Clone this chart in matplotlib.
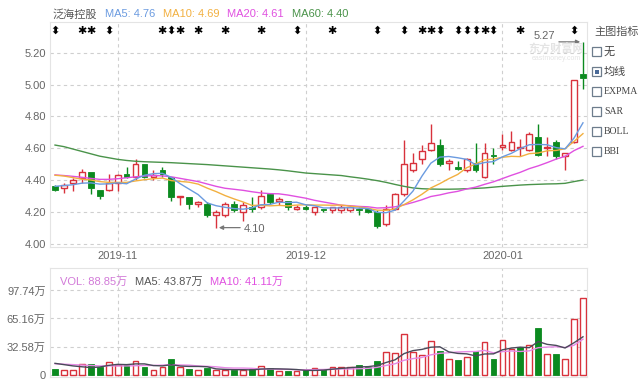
import numpy as np
import pandas as pd
import matplotlib
matplotlib.use('Agg')
import matplotlib.pyplot as plt
import matplotlib.transforms as mtransforms
from matplotlib.patches import Rectangle

plt.rcParams['font.family'] = ['Liberation Sans', 'Noto Sans CJK SC', 'DejaVu Sans']

# ---- data (2019-10-23 .. 2020-01-15, 60 sessions) ----
opens = [4.36, 4.35, 4.38, 4.41, 4.45, 4.34, 4.34, 4.38, 4.44, 4.42,
         4.50, 4.42, 4.46, 4.42, 4.29, 4.29, 4.25, 4.25, 4.18, 4.18,
         4.25, 4.20, 4.23, 4.23, 4.31, 4.27, 4.27, 4.22, 4.23, 4.20,
         4.22, 4.21, 4.21, 4.21, 4.22, 4.22, 4.20, 4.12, 4.22, 4.31,
         4.46, 4.53, 4.59, 4.62, 4.51, 4.48, 4.46, 4.51, 4.42, 4.56,
         4.61, 4.59, 4.60, 4.59, 4.67, 4.60, 4.64, 4.55, 4.64, 5.07]
highs = [4.37, 4.38, 4.41, 4.47, 4.45, 4.34, 4.44, 4.44, 4.48, 4.53,
         4.50, 4.46, 4.48, 4.42, 4.30, 4.29, 4.27, 4.26, 4.21, 4.26,
         4.27, 4.26, 4.29, 4.34, 4.32, 4.29, 4.27, 4.24, 4.24, 4.23,
         4.22, 4.23, 4.24, 4.24, 4.23, 4.22, 4.21, 4.24, 4.32, 4.65,
         4.57, 4.62, 4.75, 4.66, 4.53, 4.52, 4.54, 4.63, 4.63, 4.60,
         4.69, 4.71, 4.66, 4.70, 4.75, 4.67, 4.65, 4.57, 5.03, 5.27]
lows = [4.33, 4.32, 4.33, 4.38, 4.31, 4.28, 4.33, 4.33, 4.41, 4.40,
        4.41, 4.40, 4.42, 4.27, 4.24, 4.22, 4.23, 4.17, 4.10, 4.17,
        4.20, 4.14, 4.20, 4.22, 4.25, 4.24, 4.21, 4.21, 4.21, 4.18,
        4.20, 4.19, 4.19, 4.20, 4.18, 4.19, 4.10, 4.11, 4.21, 4.30,
        4.45, 4.50, 4.58, 4.49, 4.46, 4.46, 4.45, 4.45, 4.41, 4.50,
        4.59, 4.58, 4.55, 4.58, 4.55, 4.55, 4.53, 4.46, 4.63, 4.97]
closes = [4.34, 4.37, 4.40, 4.45, 4.35, 4.30, 4.38, 4.43, 4.42, 4.50,
          4.42, 4.43, 4.44, 4.29, 4.30, 4.25, 4.26, 4.18, 4.20, 4.25,
          4.21, 4.24, 4.22, 4.30, 4.26, 4.28, 4.23, 4.23, 4.22, 4.23,
          4.21, 4.23, 4.23, 4.23, 4.21, 4.20, 4.11, 4.22, 4.31, 4.50,
          4.51, 4.58, 4.63, 4.50, 4.52, 4.47, 4.53, 4.46, 4.57, 4.55,
          4.62, 4.64, 4.61, 4.69, 4.56, 4.61, 4.55, 4.57, 5.03, 5.04]

# volume in 万
volume = [6.0, 5.2, 5.2, 12.2, 11.8, 9.1, 14.9, 11.0, 10.7, 16.1,
          9.1, 5.2, 9.1, 17.6, 8.3, 6.8, 5.2, 7.2, 5.2, 5.2,
          5.2, 5.2, 6.0, 9.9, 7.2, 4.5, 3.7, 3.7, 4.8, 7.0,
          6.4, 9.1, 8.3, 9.1, 11.0, 8.3, 15.7, 25.8, 24.6, 47.1,
          25.8, 22.7, 38.6, 27.0, 17.6, 16.9, 20.0, 27.0, 37.8, 18.4,
          40.5, 30.0, 32.5, 34.5, 54.25, 24.0, 24.0, 17.7, 64.8, 88.85]
vol_dir = "GRRRGGRRGRGRRGRGRGRRGRGRGRGRGR" "GRRRGGGRRRRRRGRGRGRGRRGRGRGRRR"

# moving-average values at the left edge (window reaches before the visible range)
ma5_head = [4.36, 4.365, 4.37, 4.38]
ma10_head = [4.43, 4.425, 4.415, 4.405, 4.40, 4.39, 4.385, 4.385, 4.385]
ma20_head = [4.432, 4.428, 4.423, 4.417, 4.41, 4.404, 4.404, 4.408, 4.414, 4.42,
             4.425, 4.428, 4.426, 4.42, 4.41, 4.40, 4.39, 4.375, 4.36]
ma60 = [4.62, 4.61, 4.595, 4.58, 4.565, 4.55, 4.54, 4.53, 4.523, 4.518,
        4.515, 4.513, 4.511, 4.509, 4.506, 4.503, 4.50, 4.497, 4.493, 4.489,
        4.485, 4.481, 4.477, 4.473, 4.469, 4.464, 4.458, 4.451, 4.444, 4.44,
        4.436, 4.432, 4.428, 4.42, 4.413, 4.405, 4.396, 4.385, 4.372, 4.36,
        4.35, 4.345, 4.343, 4.342, 4.342, 4.343, 4.345, 4.347, 4.35, 4.355,
        4.36, 4.364, 4.368, 4.371, 4.373, 4.375, 4.376, 4.379, 4.39, 4.40]
vma5_head = [13.0, 11.5, 10.0, 9.0]
vma10_head = [12.5, 12.0, 11.5, 11.0, 10.5, 10.0, 10.0, 10.0, 10.0]

arrow_marks = [0, 6, 13, 27, 36, 39, 43, 45, 46, 47, 49, 58]
star_marks = [3, 4, 12, 14, 16, 19, 23, 31, 41, 42, 48, 52]

xtick_pos = [7, 28, 50]
xtick_labels = ['2019-11', '2019-12', '2020-01']
price_ticks = [4.00, 4.20, 4.40, 4.60, 4.80, 5.00, 5.20]
vol_ticks = [0, 32.58, 65.16, 97.74]
vol_tick_labels = ['0', '32.58万', '65.16万', '97.74万']

RED = '#d8323c'
GREEN = '#0b8a1f'
C_MA5 = '#6b9be0'
C_MA10 = '#f2b040'
C_MA20 = '#e050e0'
C_MA60 = '#4a934a'
GRID = '#cfcfcf'
TXT = '#666666'


def with_head(values, n, head):
    s = pd.Series(values).rolling(n).mean().to_numpy()
    s[:len(head)] = head
    return s


o = np.array(opens); h = np.array(highs); l = np.array(lows); c = np.array(closes)
v = np.array(volume)
x = np.arange(len(c))
ma5 = with_head(c, 5, ma5_head)
ma10 = with_head(c, 10, ma10_head)
ma20 = with_head(c, 20, ma20_head)
vma5 = with_head(v, 5, vma5_head)
vma10 = with_head(v, 10, vma10_head)

W, H = 641, 382
fig = plt.figure(figsize=(W / 100, H / 100), dpi=100)
ax = fig.add_axes([50 / W, 1 - 247 / H, 537 / W, 225 / H])
axv = fig.add_axes([50 / W, 1 - 377 / H, 537 / W, 109 / H])

# watermark (behind everything)
fig.text(556 / W, 1 - 49 / H, '东方财富网', color='#e4e4e4', fontsize=8, fontweight='bold',
         ha='center', va='center', zorder=0)
fig.text(556 / W, 1 - 58 / H, 'eastmoney.com', color='#e4e4e4', fontsize=5,
         ha='center', va='center', zorder=0)
ax.patch.set_alpha(0)

# ---- candles ----
up = c >= o
lo = np.minimum(o, c)
hi = np.maximum(o, c)
bh = np.maximum(hi - lo, 0.006)
bw = 0.64
col = np.where(up, RED, GREEN)
ax.vlines(x, l, lo, color=col, lw=1, zorder=2)
ax.vlines(x, hi, h, color=col, lw=1, zorder=2)
ax.bar(x[up], bh[up], bw, bottom=lo[up], facecolor='white', edgecolor=RED, lw=1, zorder=3)
ax.bar(x[~up], bh[~up], bw, bottom=lo[~up], color=GREEN, edgecolor=GREEN, lw=0.6, zorder=3)

ax.plot(x, ma60, color=C_MA60, lw=1, zorder=4)
ax.plot(x, ma20, color=C_MA20, lw=1, zorder=4)
ax.plot(x, ma10, color=C_MA10, lw=1, zorder=4)
ax.plot(x, ma5, color=C_MA5, lw=1, zorder=4)

ax.set_xlim(-0.56, 59.45)
ax.set_ylim(3.978, 5.395)
ax.set_yticks(price_ticks)
ax.set_yticklabels(['%.2f' % p for p in price_ticks])
ax.set_xticks(xtick_pos)
ax.set_xticklabels(xtick_labels)
ax.tick_params(length=0, labelsize=8, colors=TXT, pad=3)
ax.grid(True, color=GRID, ls=(0, (3, 3)), lw=0.8)
for sp in ax.spines.values():
    sp.set_color('#e4e4e4')
    sp.set_linewidth(0.8)

# top signal markers
trans = mtransforms.blended_transform_factory(ax.transData, ax.transAxes)
for i in arrow_marks:
    ax.text(i, 0.962, '⬍', transform=trans, ha='center', va='center', fontsize=8,
            family=['DejaVu Sans'], fontweight='bold', color='black')
for i in star_marks:
    ax.text(i, 0.962, '✱', transform=trans, ha='center', va='center', fontsize=8,
            family=['DejaVu Sans'], color='black')

# high / low annotations
imax = int(np.argmax(h)); imin = int(np.argmin(l))
ax.annotate('', xy=(imax, h[imax]), xytext=(imax - 3.0, h[imax]),
            arrowprops=dict(arrowstyle='-|>', color='#777777', lw=0.9, mutation_scale=6), zorder=6)
ax.text(imax - 3.1, h[imax] + 0.003, '%.2f' % h[imax], ha='right', va='bottom', fontsize=8, color='#666666')
ax.annotate('', xy=(imin, l[imin]), xytext=(imin + 3.0, l[imin]),
            arrowprops=dict(arrowstyle='-|>', color='#777777', lw=0.9, mutation_scale=6), zorder=6)
ax.text(imin + 3.1, l[imin] - 0.01, '%.2f' % l[imin], ha='left', va='center', fontsize=8, color='#666666')

# ---- volume ----
vup = np.array([d == 'R' for d in vol_dir])
axv.bar(x[vup], v[vup], bw, facecolor='white', edgecolor=RED, lw=1, zorder=3)
axv.bar(x[~vup], v[~vup], bw, color=GREEN, edgecolor=GREEN, lw=0.6, zorder=3)
axv.plot(x, vma10, color='#e68ae6', lw=1, zorder=4)
axv.plot(x, vma5, color='#4a4a5a', lw=1, zorder=4)
axv.set_xlim(-0.56, 59.45)
axv.set_ylim(-2.9, 123.9)
axv.set_yticks(vol_ticks)
axv.set_yticklabels(vol_tick_labels)
axv.set_xticks(xtick_pos)
axv.set_xticklabels([])
axv.tick_params(length=0, labelsize=8, colors=TXT, pad=3)
axv.grid(True, color=GRID, ls=(0, (3, 3)), lw=0.8)
for sp in axv.spines.values():
    sp.set_color('#e4e4e4')
    sp.set_linewidth(0.8)

# ---- overlay in pixel coordinates for legends / side panel ----
ov = fig.add_axes([0, 0, 1, 1], zorder=10)
ov.set_xlim(0, W); ov.set_ylim(H, 0); ov.axis('off')
ov.patch.set_alpha(0)

ov.text(53, 14, '泛海控股', color='#555555', fontsize=8, va='center')
ov.text(105, 14, 'MA5: %.2f' % ma5[-1], color=C_MA5, fontsize=8, va='center')
ov.text(163, 14, 'MA10: %.2f' % ma10[-1], color=C_MA10, fontsize=8, va='center')
ov.text(227, 14, 'MA20: %.2f' % ma20[-1], color=C_MA20, fontsize=8, va='center')
ov.text(292, 14, 'MA60: %.2f' % ma60[-1], color=C_MA60, fontsize=8, va='center')

ov.text(60, 282, 'VOL: %.2f万' % v[-1], color='#d27ad8', fontsize=8, va='center')
ov.text(135, 282, 'MA5: %.2f万' % vma5[-1], color='#555555', fontsize=8, va='center')
ov.text(210, 282, 'MA10: %.2f万' % vma10[-1], color='#e050e0', fontsize=8, va='center')

# side panel
ov.text(594, 32, '主图指标', color='#555555', fontsize=8, va='center')
items = ['无', '均线', 'EXPMA', 'SAR', 'BOLL', 'BBI']
for k, name in enumerate(items):
    yc = 51.5 + 20 * k
    ov.add_patch(Rectangle((592, yc - 4.5), 9, 9, facecolor='white', edgecolor='#6d7c8c', lw=0.9))
    if name == '均线':
        ov.add_patch(Rectangle((594.5, yc - 2), 4, 4, facecolor='#4a6a98', edgecolor='none'))
    fam = ['Noto Sans CJK SC'] if k < 2 else ['Liberation Serif']
    ov.text(604, yc, name, color='#444444', fontsize=8 if k < 2 else 7, va='center', family=fam)

fig.savefig('out.png', dpi=100, facecolor='white')
